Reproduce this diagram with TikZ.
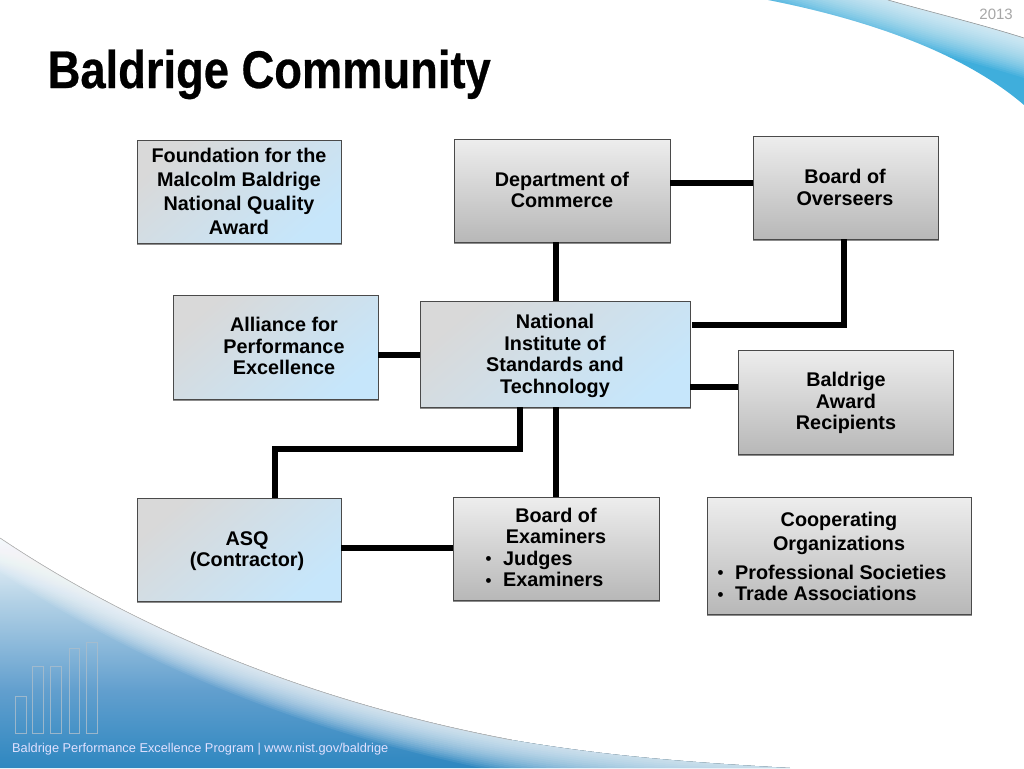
\documentclass[tikz,border=0pt]{standalone}
\usepackage{fontspec}
\setmainfont{Liberation Sans}
\newfontfamily\titlefont[FakeStretch=0.855,FakeBold=0.5]{Liberation Sans Bold}
\usetikzlibrary{calc}
\definecolor{linkblack}{HTML}{000000}
\definecolor{edgegray}{HTML}{4A4A4A}
\definecolor{deepblue}{HTML}{2E87C0}
\definecolor{midblueA}{HTML}{B4D2E6}
\definecolor{midblueB}{HTML}{629FCE}
\definecolor{skyband}{HTML}{3FAEDC}
\definecolor{paleblue}{HTML}{C6E6FB}
\definecolor{barline}{HTML}{A9BDCC}
\tikzset{
  x=1pt,y=-1pt,
  boxbase/.style={draw=edgegray,line width=0.9pt,inner sep=0pt,anchor=north west,
    preaction={draw=black!45,fill=black!45,line width=1.2pt,transform canvas={xshift=0.4pt,yshift=-1.4pt}}},
  bluebox/.style={boxbase,top color=black!15,bottom color=paleblue,shading angle=40},
  graybox/.style={boxbase,top color=black!7,bottom color=black!28},
  boxtext/.style={font=\fontsize{19.8}{21.5}\bfseries\selectfont,align=center,inner sep=0pt,anchor=center,text=black},
  listtext/.style={boxtext,align=left,anchor=west},
  link/.style={line width=6pt,draw=linkblack},
}
\newcommand{\boxat}[6]{\node[#1,minimum width=#4pt,minimum height=#5pt] (#6) at (#2,#3) {};}
\newcommand{\smallbullet}{\makebox[0pt][l]{\hspace{1.5pt}\raisebox{0.5pt}{\scalebox{0.85}{•}}}\hspace{19pt}}
\begin{document}
\begin{tikzpicture}
\useasboundingbox (0,0) rectangle (1024,768);
\fill[white] (0,0) rectangle (1024,768);
% top-right swoosh
\begin{scope}
\clip (768,0) .. controls (860,18) and (960,50) .. (1024,105) -- (1024,38) .. controls (980,24) and (930,12) .. (888,0) -- cycle;
\fill[skyband] (760,0) rectangle (1024,110);
\foreach \d in {0,2,...,40}{
  \fill[white,opacity=0.07] (760,-40+\d) -- (888,-2+\d) .. controls (930,12+\d) and (980,24+\d) .. (1024,38+\d) -- (1024,-40) -- cycle;
}
\end{scope}
\draw[black!40,line width=0.6pt] (888,0) .. controls (930,12) and (980,24) .. (1024,38);
% bottom-left swoosh
\begin{scope}
\clip (0,538) .. controls (130,625) and (300,700) .. (512,740) .. controls (600,755) and (680,762) .. (790,768) -- (0,768) -- cycle;
\fill[top color=white,bottom color=midblueA] (0,530) rectangle (1024,600.5);
\fill[top color=midblueA,bottom color=midblueB] (0,600) rectangle (1024,690.5);
\fill[top color=midblueB,bottom color=deepblue] (0,690) rectangle (1024,768);
\foreach \d in {0,2,...,34}{
  \fill[white,opacity=0.08] (0,538+\d) .. controls (130,625+\d) and (300,700+\d) .. (512,740+\d) .. controls (600,755+\d) and (680,762+\d) .. (790,768+\d) -- (1024,800) -- (1024,500) -- (0,500) -- cycle;
}
\end{scope}
\draw[black!30,line width=0.6pt] (0,538) .. controls (130,625) and (300,700) .. (512,740);
% bars
\foreach \xa/\xb/\yt in {15/26/696,32/43/666,50/61/666,69/79/648,86/97/642}{
  \draw[barline,opacity=0.85,line width=1pt] (\xa,733) rectangle (\xb,\yt);
}
\node[anchor=base west,inner sep=0pt,font=\fontsize{12.8}{14}\selectfont,text=white!88!blue] (footer) at (12,752) {Baldrige Performance Excellence Program | www.nist.gov/baldrige};
\node[anchor=base east,inner sep=0pt,font=\fontsize{15}{16}\selectfont,text=black!35] (year) at (1013,20) {2013};
\node[anchor=base west,inner sep=0pt,font=\fontsize{53}{56}\titlefont\selectfont,text=black] (title) at (47.5,88) {Baldrige Community};
% boxes
\boxat{bluebox}{137}{140}{203.5}{102.5}{found}
\boxat{graybox}{454}{139}{215.5}{102.5}{dept}
\boxat{graybox}{753}{136}{184.5}{102.5}{over}
\boxat{bluebox}{173}{295}{204.5}{103.5}{alli}
\boxat{bluebox}{420}{301}{269.5}{105.5}{nist}
\boxat{graybox}{738}{350}{214.5}{103.5}{reci}
\boxat{bluebox}{137}{498}{203.5}{102.5}{asq}
\boxat{graybox}{453}{497}{205.5}{102.5}{exam}
\boxat{graybox}{707}{497}{263.5}{116.5}{coop}
% connectors
\coordinate (overdrop) at (over.south -| 844,0);
\coordinate (nistr) at (692,325);
\coordinate (asqtop) at (275,498);
\draw[link] (556,0 |- dept.south) -- (556,0 |- nist.north);
\draw[link] (dept.east |- 0,183) -- (over.west |- 0,183);
\draw[link] (overdrop) -- (844,325) -- (nistr);
\draw[link] (alli.east |- 0,355) -- (nist.west |- 0,355);
\draw[link] (nist.east |- 0,387) -- (reci.west |- 0,387);
\draw[link] (520,0 |- nist.south) -- (520,449) -- (275,449) -- (asqtop);
\draw[link] (556,0 |- nist.south) -- (556,0 |- exam.north);
\draw[link] (asq.east |- 0,548) -- (exam.west |- 0,548);
% texts
\node[boxtext,font=\fontsize{19.8}{24}\bfseries\selectfont] (tfound) at (239,191) {Foundation for the\\Malcolm Baldrige\\National Quality\\Award};
\node[boxtext] (tdept) at (562,190) {Department of\\Commerce};
\node[boxtext] (tover) at (845,187.5) {Board of\\Overseers};
\node[boxtext] (talli) at (284,346) {Alliance for\\Performance\\Excellence};
\node[boxtext] (tnist) at (555,356) {National\\Institute of\\Standards and\\Technology};
\node[boxtext] (treci) at (846,403) {Baldrige\\Award\\Recipients};
\node[boxtext] (tasq) at (247,551) {ASQ\\(Contractor)};
\node[boxtext] (texam) at (556,526) {Board of\\Examiners};
\node[listtext] (texlist) at (484,569) {\smallbullet Judges\\\smallbullet Examiners};
\node[boxtext,font=\fontsize{19.8}{24}\bfseries\selectfont] (tcoop) at (839,533) {Cooperating\\Organizations};
\node[listtext] (tcolist) at (716,583) {\smallbullet Professional Societies\\\smallbullet Trade Associations};
\end{tikzpicture}
\end{document}
